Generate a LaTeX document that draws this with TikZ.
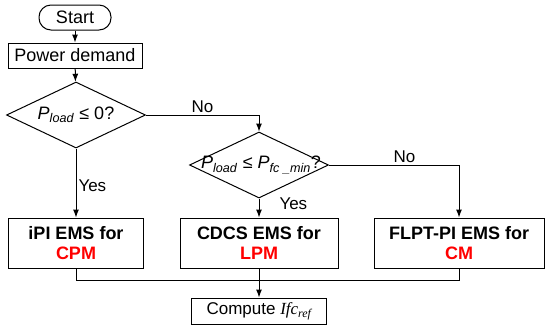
\documentclass[tikz,border=0pt]{standalone}
\usepackage{fontspec}
\setmainfont{Liberation Sans}
\newfontfamily\serifit{Liberation Serif}
\usetikzlibrary{shapes.geometric,arrows.meta}
\definecolor{modeRed}{RGB}{255,0,0}

\begin{document}
\begin{tikzpicture}[%
    x=1pt, y=-1pt,
    every node/.style={
        font=\fontsize{18}{20}\selectfont,
    },
    box/.style={draw, line width=1pt, inner sep=0pt, align=center},
    decision/.style={draw, diamond, line width=1pt, inner sep=0pt,
        minimum width=139pt, minimum height=66pt},
    flow/.style={line width=1pt, -{Latex[length=8pt,width=6pt]}},
    link/.style={line width=1pt},
    tag/.style={font=\fontsize{17}{20}\selectfont, inner sep=2pt},
]
\useasboundingbox (0,0) rectangle (545,325);

% place start and input
\node[box, rounded corners=12pt, minimum width=72pt, minimum height=25pt] (start) at (75,17.5) {Start};
\node[box, minimum width=134pt, minimum height=25pt] (demand) at (75,55.5) {Power demand};

% place decisions
\node[decision] (d1) at (76,115) {};
\node (d1text) at (76,115) {\textit{P}\textsubscript{\textit{load}} ≤ 0?};
\node[decision] (d2) at (259,165) {};
\node (d2text) at (261,165) {\textit{P}\textsubscript{\textit{load}} ≤ \textit{P}\textsubscript{\textit{fc \_min}}?};

% place mode boxes
\node[box, minimum width=135pt, minimum height=50pt] (cpm) at (76,243)
    {\textbf{iPI EMS for}\\\textcolor{modeRed}{\textbf{CPM}}};
\node[box, minimum width=158pt, minimum height=50pt] (lpm) at (259,243)
    {\textbf{CDCS EMS for}\\\textcolor{modeRed}{\textbf{LPM}}};
\node[box, minimum width=170pt, minimum height=50pt] (cm) at (459,243)
    {\textbf{FLPT-PI EMS for}\\\textcolor{modeRed}{\textbf{CM}}};

% place output
\node[box, minimum width=135pt, minimum height=26pt, font=\fontsize{17}{20}\selectfont] (compute) at (259,311)
    {Compute {\serifit\itshape Ifc}\textsubscript{\serifit\itshape ref}};

% draw connectors
\draw[flow] (start) -- (demand);
\draw[flow] (demand) -- (d1);
\draw[flow] (d1.east) -| node[tag, pos=0.25, above] {No} (d2.north);
\draw[flow] (d1.south) -- node[tag, pos=0.54, right] {Yes} (cpm);
\draw[flow] (d2.east) -| node[tag, pos=0.29, above] {No} (cm.north);
\draw[flow] (d2.south) -- node[tag, pos=0.3, right, xshift=18pt] {Yes} (lpm);

% draw merge lines
\draw[link] (cpm.south) -- ++(0,12) -| (cm.south);
\draw[flow] (lpm.south) -- (compute);

\end{tikzpicture}
\end{document}
